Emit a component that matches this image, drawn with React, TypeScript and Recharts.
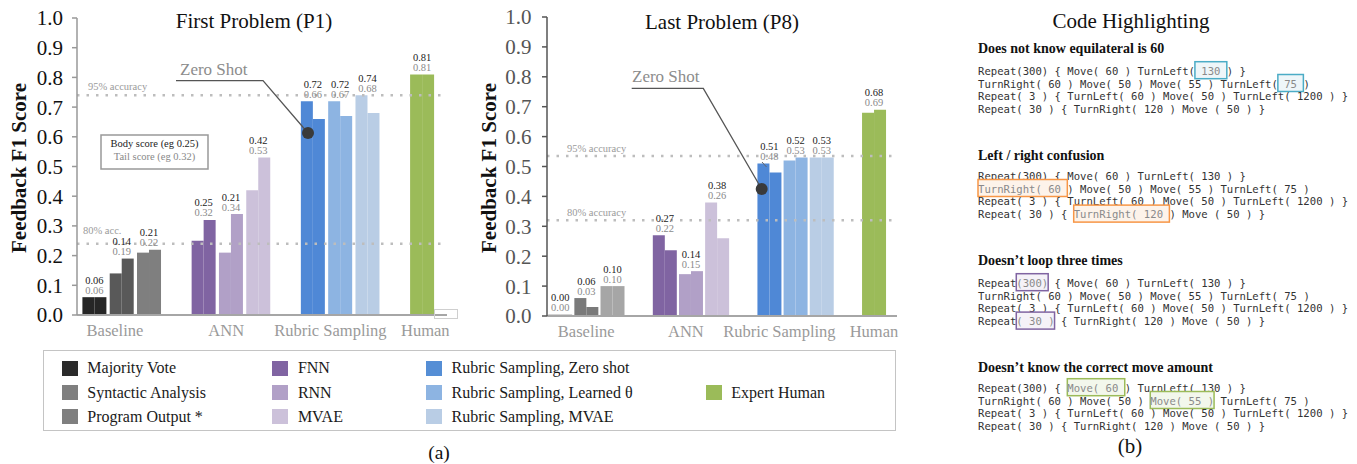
import React from 'react';
import { BarChart, Bar, XAxis, YAxis, Cell, LabelList, ReferenceLine } from 'recharts';

const SERIF = "'Liberation Serif', 'Times New Roman', serif";
const MONO = "'DejaVu Sans Mono', monospace";

// one slot per method, empty slots separate the groups
const slots = ['majority', 'syntactic', 'output', 'gapA', 'fnn', 'rnn', 'mvae', 'gapB', 'zeroShot', 'learned', 'rubricMvae', 'gapC', 'human'];
const groupNames = ['', 'Baseline', '', '', '', 'ANN', '', '', '', 'Rubric Sampling', '', '', 'Human'];
const yTicks = [0, 0.1, 0.2, 0.3, 0.4, 0.5, 0.6, 0.7, 0.8, 0.9, 1.0];

const p1Body = [0.06, 0.14, 0.21, null, 0.25, 0.21, 0.42, null, 0.72, 0.72, 0.74, null, 0.81];
const p1Tail = [0.06, 0.19, 0.22, null, 0.32, 0.34, 0.53, null, 0.66, 0.67, 0.68, null, 0.81];
const p8Body = [0.004, 0.06, 0.10, null, 0.27, 0.14, 0.38, null, 0.51, 0.52, 0.53, null, 0.68];
const p8Tail = [0.004, 0.03, 0.10, null, 0.22, 0.15, 0.26, null, 0.48, 0.53, 0.53, null, 0.69];

const p1Acc = [{ value: 0.74, label: '95% accuracy', dx: 11, dy: -5 }, { value: 0.24, label: '80% acc.', dx: 6, dy: -10 }];
const p8Acc = [{ value: 0.535, label: '95% accuracy', dx: 20, dy: -4 }, { value: 0.32, label: '80% accuracy', dx: 20, dy: -4 }];

const p1Colors = ['#262626', '#595959', '#7f7f7f', 'none', '#8064a2', '#b1a0c7', '#ccc1da', 'none', '#4f88d6', '#8db4e2', '#b9cde5', 'none', '#9bbb59'];
const p8Colors = ['#1c1c1c', '#7a7a7a', '#a6a6a6', 'none', '#8064a2', '#b1a0c7', '#ccc1da', 'none', '#4f88d6', '#8db4e2', '#b9cde5', 'none', '#9bbb59'];

const legendItems = [
  { name: 'Majority Vote', color: '#2b2b2b', col: 0, row: 0 },
  { name: 'Syntactic Analysis', color: '#7f7f7f', col: 0, row: 1 },
  { name: 'Program Output *', color: '#7f7f7f', col: 0, row: 2 },
  { name: 'FNN', color: '#8064a2', col: 1, row: 0 },
  { name: 'RNN', color: '#b1a0c7', col: 1, row: 1 },
  { name: 'MVAE', color: '#ccc1da', col: 1, row: 2 },
  { name: 'Rubric Sampling, Zero shot', color: '#558ed5', col: 2, row: 0 },
  { name: 'Rubric Sampling, Learned θ', color: '#8db4e2', col: 2, row: 1 },
  { name: 'Rubric Sampling, MVAE', color: '#b9cde5', col: 2, row: 2 },
  { name: 'Expert Human', color: '#9bbb59', col: 3, row: 1 },
];
const legendCols = [61.7, 272.3, 426, 705.7];
const legendRows = [368, 392.5, 416.5];

const baseLines = [
  'Repeat(300) { Move( 60 ) TurnLeft( 130 ) }',
  'TurnRight( 60 ) Move( 50 ) Move( 55 ) TurnLeft( 75 )',
  'Repeat( 3 ) { TurnLeft( 60 ) Move( 50 ) TurnLeft( 1200 ) }',
  'Repeat( 30 ) { TurnRight( 120 ) Move ( 50 ) }',
];

// each line: [before, highlighted, after] or a plain string
const sections = [
  {
    title: 'Does not know equilateral is 60', headY: 52.6, lineY: 71, stroke: '#4bacc6', fill: '#eef6f9',
    lines: [['Repeat(300) { Move( 60 ) TurnLeft(', ' 130 ', ') }'], ['TurnRight( 60 ) Move( 50 ) Move( 55 ) TurnLeft(', ' 75 ', ')'], baseLines[2], baseLines[3]],
  },
  {
    title: 'Left / right confusion', headY: 159.5, lineY: 176, stroke: '#f79646', fill: '#fdf3ea',
    lines: [baseLines[0], ['', 'TurnRight( 60 ', ') Move( 50 ) Move( 55 ) TurnLeft( 75 )'], baseLines[2], ['Repeat( 30 ) { ', 'TurnRight( 120 ', ') Move ( 50 ) }']],
  },
  {
    title: 'Doesn’t loop three times', headY: 264.5, lineY: 283, stroke: '#8064a2', fill: '#f5f2f8',
    lines: [['Repeat', '(300)', ' { Move( 60 ) TurnLeft( 130 ) }'], baseLines[1], baseLines[2], ['Repeat', '( 30 )', ' { TurnRight( 120 ) Move ( 50 ) }']],
  },
  {
    title: 'Doesn’t know the correct move amount', headY: 371.5, lineY: 388, stroke: '#9bbb59', fill: '#f3f7ec',
    lines: [['Repeat(300) { ', 'Move( 60 ', ') TurnLeft( 130 ) }'], ['TurnRight( 60 ) Move( 50 ) ', 'Move( 55 )', ' TurnLeft( 75 )'], baseLines[2], baseLines[3]],
  },
];

function AccLabel(props: any) {
  const { viewBox, text, dx, dy } = props;
  if (!viewBox) return null;
  return (
    <text x={viewBox.x + dx} y={viewBox.y + dy} fontSize={10.5} fill="#9a9a9a" fontFamily={SERIF}>
      {text}
    </text>
  );
}

const makeGroupTick = (shift: number[]) => (p: any) => {
  const i = slots.indexOf(p.payload?.value);
  const name = groupNames[i];
  if (!name) return <g />;
  return (
    <text x={p.x + shift[i]} y={p.y + 13} textAnchor="middle" fontSize={16.5} fill="#9a9a9a" fontFamily={SERIF}>
      {name}
    </text>
  );
};

const makePairLabel = (body: (number | null)[], tail: (number | null)[], plotH: number) => (p: any) => {
  const i = slots.indexOf(p.value);
  const b = body[i];
  const t = tail[i];
  if (i < 0 || b == null || t == null) return null;
  const base = Number(p.y) + Number(p.height);
  const top = base - Math.max(b, t) * plotH;
  const cx = Number(p.x);
  return (
    <g>
      <text x={cx} y={top - 13.5} textAnchor="middle" fontSize={10.5} fill="#222" fontFamily={SERIF}>{b.toFixed(2)}</text>
      <text x={cx} y={top - 3.5} textAnchor="middle" fontSize={10.5} fill="#8a8a8a" fontFamily={SERIF}>{t.toFixed(2)}</text>
    </g>
  );
};

interface ScoreChartProps {
  left: number;
  width: number;
  height: number;
  top: number;
  right: number;
  padding: { left: number; right: number };
  gap: number;
  body: (number | null)[];
  tail: (number | null)[];
  colors: string[];
  acc: { value: number; label: string; dx: number; dy: number }[];
  tickColor: string;
  axisColor: string;
  tickMargin: number;
  shift: number[];
  children?: React.ReactNode;
}

function ScoreChart(props: ScoreChartProps) {
  const { left, width, height, top, right, padding, gap, body, tail, colors, acc, tickColor, axisColor, tickMargin, shift, children } = props;
  const xAxisH = 30;
  const plotH = height - top - xAxisH;
  const data = slots.map((s, i) => ({ slot: s, body: body[i], tail: tail[i] }));
  return (
    <div style={{ position: 'absolute', left, top: 0, width, height }}>
      <BarChart width={width} height={height} data={data} margin={{ top, right, left: 0, bottom: 0 }} barCategoryGap={gap} barGap={0}>
        <XAxis
          dataKey="slot"
          interval={0}
          tickLine={false}
          axisLine={{ stroke: '#a6a6a6', strokeWidth: 2 }}
          tick={makeGroupTick(shift)}
          padding={padding}
          height={xAxisH}
        />
        <YAxis
          domain={[0, 1]}
          ticks={yTicks}
          interval={0}
          width={77}
          tickFormatter={(v: number) => v.toFixed(1)}
          tick={{ fontSize: 21, fill: tickColor, fontFamily: SERIF }}
          axisLine={{ stroke: axisColor, strokeWidth: 1.5 }}
          tickLine={{ stroke: axisColor, strokeWidth: 1.5 }}
          tickSize={5}
          tickMargin={tickMargin}
        />
        {acc.map((a) => (
          <ReferenceLine
            key={a.label}
            y={a.value}
            stroke="#bdbdbd"
            strokeWidth={2.5}
            strokeDasharray="2.5 7"
            label={<AccLabel text={a.label} dx={a.dx} dy={a.dy} />}
          />
        ))}
        <Bar dataKey="body" isAnimationActive={false}>
          {data.map((d, i) => <Cell key={d.slot} fill={colors[i]} />)}
        </Bar>
        <Bar dataKey="tail" isAnimationActive={false}>
          {data.map((d, i) => <Cell key={d.slot} fill={colors[i]} />)}
          <LabelList dataKey={(d: any) => d.slot} content={makePairLabel(body, tail, plotH)} />
        </Bar>
      </BarChart>
      <svg width={width} height={height} style={{ position: 'absolute', left: 0, top: 0, pointerEvents: 'none' }}>
        {children}
      </svg>
    </div>
  );
}

function YTitle() {
  return (
    <text transform="translate(26,168) rotate(-90)" textAnchor="middle" fontSize={21} fontWeight="bold" fill="#111" fontFamily={SERIF}>
      Feedback F1 Score
    </text>
  );
}

function ZeroShot({ tx, ty, x1, x2, ly, dotX, dotY }: { tx: number; ty: number; x1: number; x2: number; ly: number; dotX: number; dotY: number }) {
  return (
    <g>
      <text x={tx} y={ty} fontSize={17} fill="#8c8c8c" fontFamily={SERIF}>Zero Shot</text>
      <polyline points={`${x1},${ly} ${x2},${ly} ${dotX},${dotY}`} fill="none" stroke="#555" strokeWidth={1.3} />
      <circle cx={dotX} cy={dotY} r={6} fill="#3a3a3a" />
    </g>
  );
}

function Legend() {
  return (
    <>
      <div style={{ position: 'absolute', left: 42.7, top: 350, width: 853, height: 81, border: '1.5px solid #c4c4c4', boxSizing: 'border-box' }} />
      {legendItems.map((it) => (
        <React.Fragment key={it.name}>
          <div style={{ position: 'absolute', left: legendCols[it.col], top: legendRows[it.row] - 7.5, width: 16, height: 15, background: it.color }} />
          <div style={{ position: 'absolute', left: legendCols[it.col] + 25.6, top: legendRows[it.row] - 9, lineHeight: '18px', fontSize: 16, color: '#1a1a1a', fontFamily: SERIF, whiteSpace: 'nowrap' }}>
            {it.name}
          </div>
        </React.Fragment>
      ))}
    </>
  );
}

function CodeSegment({ x, y, text, fill, cw }: { x: number; y: number; text: string; fill: string; cw: number }) {
  if (!text) return null;
  return (
    <text
      x={x} y={y} fontSize={10.6} fill={fill} fontFamily={MONO}
      textLength={text.length * cw} lengthAdjust="spacingAndGlyphs"
      style={{ whiteSpace: 'pre' }} xmlSpace="preserve"
    >
      {text}
    </text>
  );
}

function CodePanel() {
  const x0 = 978;
  const cw = 6.38;
  const lh = 12.8;
  return (
    <svg width={1357} height={464} style={{ position: 'absolute', left: 0, top: 0, pointerEvents: 'none' }}>
      <text x={1131} y={28} textAnchor="middle" fontSize={21} fill="#111" fontFamily={SERIF}>Code Highlighting</text>
      {sections.map((s) => (
        <g key={s.title}>
          <text x={x0} y={s.headY} fontSize={14} fontWeight="bold" fill="#111" fontFamily={SERIF}>{s.title}</text>
          {s.lines.map((ln, li) => {
            const cy = s.lineY + li * lh;
            const parts = typeof ln === 'string' ? [ln, '', ''] : ln;
            const hx = x0 + parts[0].length * cw;
            const ax = hx + parts[1].length * cw;
            return (
              <g key={li}>
                {parts[1] && (
                  <rect x={hx} y={cy - 9.3} width={parts[1].length * cw} height={17} fill={s.fill} stroke={s.stroke} strokeWidth={1.5} />
                )}
                <CodeSegment x={x0} y={cy + 3.8} text={parts[0]} fill="#333" cw={cw} />
                <CodeSegment x={hx} y={cy + 3.8} text={parts[1]} fill="#8a8a8a" cw={cw} />
                <CodeSegment x={ax} y={cy + 3.8} text={parts[2]} fill="#333" cw={cw} />
              </g>
            );
          })}
        </g>
      ))}
      <text x={1130} y={453} textAnchor="middle" fontSize={21} fill="#111" fontFamily={SERIF}>(b)</text>
      <text x={439} y={458.5} textAnchor="middle" fontSize={19.5} fill="#111" fontFamily={SERIF}>(a)</text>
    </svg>
  );
}

export default function App() {
  return (
    <div style={{ position: 'absolute', left: 0, top: 0, width: 1357, height: 464, background: '#fff', overflow: 'hidden', fontFamily: SERIF }}>
      <ScoreChart
        left={0} width={470} height={345} top={18} right={23}
        padding={{ left: 4, right: 11 }} gap={1.4}
        body={p1Body} tail={p1Tail} colors={p1Colors} acc={p1Acc}
        tickColor="#111" axisColor="#999" tickMargin={9}
        shift={[0, -7, 0, 0, 0, -5, 0, 0, 0, -10, 0, 0, 3]}
      >
        <text x={254} y={28} textAnchor="middle" fontSize={21} fill="#111" fontFamily={SERIF}>First Problem (P1)</text>
        <YTitle />
        <ZeroShot tx={180} ty={75} x1={176} x2={263} ly={80.7} dotX={308} dotY={133} />
        <rect x={101} y={135} width={107} height={34} fill="#fff" stroke="#999" strokeWidth={1.5} />
        <text x={154.5} y={146.5} textAnchor="middle" fontSize={10.5} fill="#222" fontFamily={SERIF}>Body score (eg 0.25)</text>
        <text x={154.5} y={160} textAnchor="middle" fontSize={10.5} fill="#888" fontFamily={SERIF}>Tail score (eg 0.32)</text>
        <rect x={434.5} y={309.5} width={23} height={9} fill="none" stroke="#cfcfcf" strokeWidth={1} />
      </ScoreChart>
      <ScoreChart
        left={470} width={440} height={346} top={17} right={13}
        padding={{ left: 0, right: 10 }} gap={1.2}
        body={p8Body} tail={p8Tail} colors={p8Colors} acc={p8Acc}
        tickColor="#555" axisColor="#555" tickMargin={10.5}
        shift={[0, 0, 0, 0, 0, -5, 0, 0, 0, -16, 0, 0, 0]}
      >
        <text x={252} y={29} textAnchor="middle" fontSize={21} fill="#111" fontFamily={SERIF}>Last Problem (P8)</text>
        <YTitle />
        <ZeroShot tx={162} ty={82} x1={161.7} x2={233.3} ly={88.3} dotX={291.7} dotY={189} />
        <line x1={292} y1={162} x2={296.5} y2={167} stroke="#666" strokeWidth={1} />
      </ScoreChart>
      <Legend />
      <CodePanel />
    </div>
  );
}
